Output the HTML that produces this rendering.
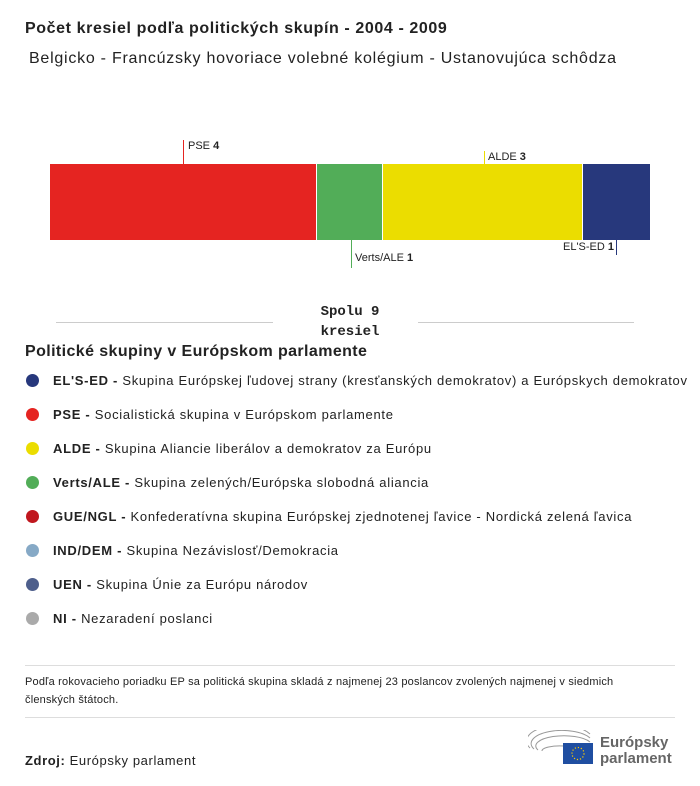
<!DOCTYPE html>
<html><head><meta charset="utf-8"><style>
body{margin:0;width:700px;height:786px;background:#fff;font-family:"Liberation Sans",sans-serif;color:#222;position:relative;overflow:hidden}
.a{position:absolute;white-space:nowrap}
.leg{position:absolute;left:26px;font-size:13px;letter-spacing:0.7px}
.leg i{display:inline-block;width:13px;height:13px;border-radius:50%;vertical-align:-2px;margin-right:14px}
.leg b{font-weight:bold}
.lbl{font-size:11px}
</style></head><body>
<div class="a" style="left:25px;top:20px;font-size:16px;font-weight:bold;letter-spacing:0.6px">Počet kresiel podľa politických skupín - 2004 - 2009</div>
<div class="a" style="left:29px;top:50px;font-size:16px;letter-spacing:0.75px">Belgicko - Francúzsky hovoriace volebné kolégium - Ustanovujúca schôdza</div>

<div class="a" style="left:50px;top:164px;width:266px;height:76px;background:#e52421"></div>
<div class="a" style="left:317px;top:164px;width:65px;height:76px;background:#52ad58"></div>
<div class="a" style="left:383px;top:164px;width:199px;height:76px;background:#ebdd00"></div>
<div class="a" style="left:583px;top:164px;width:67px;height:76px;background:#27387c"></div>

<div class="a" style="left:183px;top:140px;width:1px;height:24px;background:#e52421"></div>
<div class="a lbl" style="left:188px;top:140px">PSE <b>4</b></div>
<div class="a" style="left:484px;top:151px;width:1px;height:13px;background:#ebdd00"></div>
<div class="a lbl" style="left:488px;top:151px">ALDE <b>3</b></div>
<div class="a" style="left:351px;top:240px;width:1px;height:28px;background:#52ad58"></div>
<div class="a lbl" style="left:355px;top:252px">Verts/ALE <b>1</b></div>
<div class="a" style="left:616px;top:240px;width:1px;height:15px;background:#27387c"></div>
<div class="a lbl" style="left:563px;top:241px">EL'S-ED <b>1</b></div>

<div class="a" style="left:56px;top:322px;width:217px;height:1px;background:#ccc"></div>
<div class="a" style="left:418px;top:322px;width:216px;height:1px;background:#ccc"></div>
<div class="a" style="left:318px;top:302px;font-family:'Liberation Mono',monospace;font-weight:bold;font-size:14px;line-height:20px;text-align:center;width:64px;white-space:normal">Spolu 9 kresiel</div>

<div class="a" style="left:25px;top:343px;font-size:16px;font-weight:bold;letter-spacing:0.4px">Politické skupiny v Európskom parlamente</div>
<div class="leg" style="top:373px"><i style="background:#27387c"></i><b>EL'S-ED - </b>Skupina Európskej ľudovej strany (kresťanských demokratov) a Európskych demokratov</div>
<div class="leg" style="top:407px"><i style="background:#e52421"></i><b>PSE - </b>Socialistická skupina v Európskom parlamente</div>
<div class="leg" style="top:441px"><i style="background:#ebdd00"></i><b>ALDE - </b>Skupina Aliancie liberálov a demokratov za Európu</div>
<div class="leg" style="top:475px"><i style="background:#52ad58"></i><b>Verts/ALE - </b>Skupina zelených/Európska slobodná aliancia</div>
<div class="leg" style="top:509px"><i style="background:#c0171e"></i><b>GUE/NGL - </b>Konfederatívna skupina Európskej zjednotenej ľavice - Nordická zelená ľavica</div>
<div class="leg" style="top:543px"><i style="background:#86a9c6"></i><b>IND/DEM - </b>Skupina Nezávislosť/Demokracia</div>
<div class="leg" style="top:577px"><i style="background:#4e5f8c"></i><b>UEN - </b>Skupina Únie za Európu národov</div>
<div class="leg" style="top:611px"><i style="background:#aaa"></i><b>NI - </b>Nezaradení poslanci</div>

<div class="a" style="left:25px;top:665px;width:650px;height:1px;background:#ddd"></div>
<div class="a" style="left:25px;top:673px;width:640px;font-size:11px;line-height:18px;white-space:normal;letter-spacing:0.2px">Podľa rokovacieho poriadku EP sa politická skupina skladá z najmenej 23 poslancov zvolených najmenej v siedmich členských štátoch.</div>
<div class="a" style="left:25px;top:717px;width:650px;height:1px;background:#ddd"></div>
<div class="a" style="left:25px;top:753px;font-size:13px;letter-spacing:0.6px"><b>Zdroj:</b> Európsky parlament</div>

<svg class="a" style="left:528px;top:730px" width="66" height="36">
<g fill="none" stroke="#999" stroke-width="1"><path d="M2 18 A30 14 0 0 1 62 4"/><path d="M6 19 A26 11 0 0 1 62 8"/><path d="M10 20 A22 8 0 0 1 62 12"/><path d="M14 21 A18 5 0 0 1 36 16"/></g>
<rect x="35" y="13" width="30" height="21" fill="#1f4ea1"/>
<circle cx="50" cy="23.5" r="6" fill="none" stroke="#fc0" stroke-width="1.2" stroke-dasharray="1.2 1.9"/>
</svg>
<div class="a" style="left:600px;top:735px;font-size:15px;font-weight:bold;color:#666;line-height:16px">Európsky<br>parlament</div>
</body></html>
